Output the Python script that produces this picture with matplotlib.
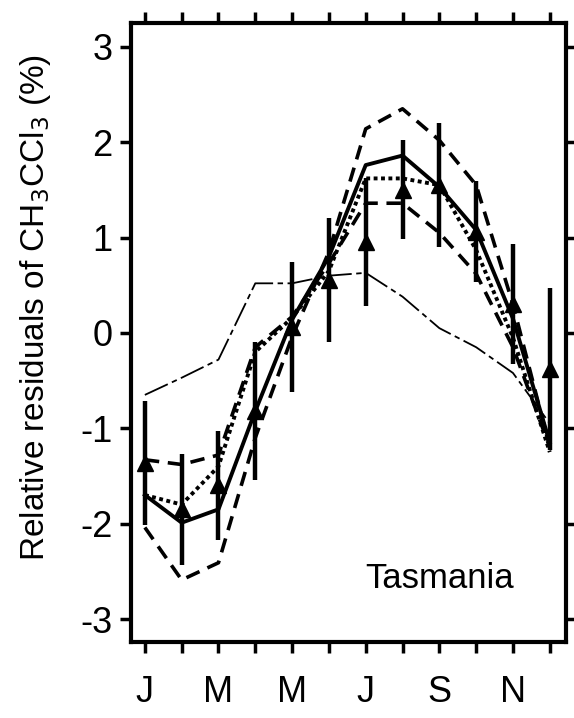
import matplotlib.pyplot as plt

plt.rcParams['font.family'] = ['Liberation Sans', 'DejaVu Sans']
plt.rcParams['axes.unicode_minus'] = False

meses = list(range(1, 13))
etiquetas = ['J', '', 'M', '', 'M', '', 'J', '', 'S', '', 'N', '']

# observaciones (triangulos) con barras de error
obs = [-1.36, -1.85, -1.6, -0.82, 0.06, 0.55, 0.95, 1.5, 1.55, 1.06, 0.3, -0.38]
obs_err = [0.65, 0.58, 0.57, 0.72, 0.68, 0.65, 0.67, 0.52, 0.65, 0.53, 0.63, 0.85]

# modelos
modelo = [-1.7, -1.99, -1.85, -0.82, 0.14, 0.8, 1.76, 1.86, 1.53, 1.08, 0.15, -1.15]
externo = [-2.04, -2.59, -2.41, -1.1, -0.04, 0.85, 2.14, 2.35, 2.02, 1.55, 0.3, -1.2]
interno = [-1.33, -1.38, -1.28, -0.15, 0.17, 0.73, 1.36, 1.36, 1.05, 0.62, -0.15, -1.2]
punteado = [-1.7, -1.8, -1.4, -0.2, 0.16, 0.65, 1.62, 1.62, 1.55, 0.87, -0.05, -1.25]
fino = [-0.65, -0.47, -0.28, 0.52, 0.52, 0.6, 0.63, 0.38, 0.05, -0.15, -0.42, -0.95]

fig = plt.figure(figsize=(5.74, 7.18), dpi=100)
ax = fig.add_axes([0.228, 0.106, 0.758, 0.862])

ax.plot(meses, fino, color='k', lw=1.3, dashes=(14, 2.5, 3, 2.5))
ax.plot(meses, externo, color='k', lw=2.6, dashes=(4, 2.4))
ax.plot(meses, interno, color='k', lw=2.6, dashes=(4, 2.4))
ax.plot(meses, punteado, color='k', lw=2.8, dashes=(1, 0.9))
ax.plot(meses, modelo, color='k', lw=2.8)
ax.errorbar(meses, obs, yerr=obs_err, fmt='^', color='k', ms=11,
            elinewidth=3.2, capsize=0)

ax.text(9.0, -2.58, 'Tasmania', fontsize=25, ha='center', va='center')

ax.set_xlim(0.62, 12.44)
ax.set_ylim(-3.24, 3.25)
ax.set_xticks(meses)
ax.set_xticklabels(etiquetas)
ax.set_yticks([-3, -2, -1, 0, 1, 2, 3])
ax.set_yticklabels(['-3', '-2', '-1', '0', '1', '2', '3'])
ax.tick_params(axis='x', direction='out', length=8, width=2.5, labelsize=26,
               pad=16, top=True)
ax.tick_params(axis='y', direction='out', length=8, width=2.5, labelsize=26,
               pad=5, right=True)
for s in ax.spines.values():
    s.set_linewidth(3)
ax.set_ylabel('Relative residuals of CH$_3$CCl$_3$ (%)', fontsize=24)
ax.yaxis.set_label_coords(-0.18, 0.54)

plt.savefig('out.png')
